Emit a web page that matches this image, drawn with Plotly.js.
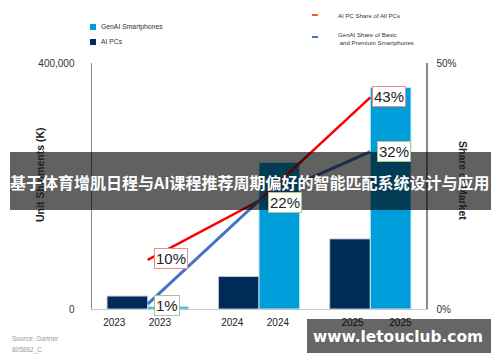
<!DOCTYPE html>
<html>
<head>
<meta charset="utf-8">
<script src="https://cdn.plot.ly/plotly-3.0.1.min.js"></script>
<style>html,body{margin:0;padding:0;background:#fff}#chart{width:500px;height:362px}</style>
</head>
<body>
<div id="chart"></div>
<script>
// ---- data ----
const years = ['2023', '2024', '2025'];
const aiPcs = [21000, 53000, 114000];          // Unit shipments (K)
const genaiPhones = [3500, 238000, 360000];    // Unit shipments (K)
const aiPcShare = [10, 22, 43];                // % share of all PCs
const genaiShare = [1, 22, 32];                // % share of basic & premium smartphones
const tickLabels = ['2023', '2023', '2024', '2024', '2025', '2025'];
const tickPos = [-0.30, 0.11, 0.76, 1.17, 1.84, 2.27];
const redLabelIdx = [0, 2];
const blueLabelIdx = [0, 1, 2];

const xi = years.map((_, i) => i);
const FONT = 'Liberation Sans, Arial, sans-serif';

const traces = [
  {type: 'bar', x: xi, y: aiPcs, name: 'AI PCs', marker: {color: '#002a57', line: {color: '#c8ccd4', width: 1}}, hoverinfo: 'skip'},
  {type: 'bar', x: xi, y: genaiPhones, name: 'GenAI Smartphones', marker: {color: '#009ddb', line: {color: '#bfe6f5', width: 1}}, hoverinfo: 'skip'},
  {type: 'scatter', mode: 'lines', x: xi, y: aiPcShare, yaxis: 'y2', line: {color: '#ff0000', width: 2.5}, hoverinfo: 'skip'},
  {type: 'scatter', mode: 'lines', x: xi, y: genaiShare, yaxis: 'y2', line: {color: '#4472c4', width: 3}, hoverinfo: 'skip'}
];

// pixel helpers for paper coordinates (plot area 92..426 x, 63..309 y)
const L = 92, R = 426, T = 63, B = 309;
const px = x => (x - L) / (R - L);
const py = y => (B - y) / (B - T);

const redShift = [6, 0, 2];
const blueShift = [6, 9, 7];
const blueYShift = [-1, -2, 0];
const annotations = [];
redLabelIdx.forEach(i => annotations.push({
  x: i, y: aiPcShare[i], xref: 'x', yref: 'y2', text: aiPcShare[i] + '%', showarrow: false,
  xanchor: 'left', yanchor: 'middle', xshift: redShift[i], yshift: 1,
  font: {family: FONT, size: 15, color: '#222'}, bgcolor: '#fff', bordercolor: '#f08a8a', borderwidth: 1, borderpad: 1
}));
blueLabelIdx.forEach(i => annotations.push({
  x: i, y: genaiShare[i], xref: 'x', yref: 'y2', text: genaiShare[i] + '%', showarrow: false,
  xanchor: 'left', yanchor: 'middle', xshift: blueShift[i], yshift: blueYShift[i],
  font: {family: FONT, size: 15, color: '#222'}, bgcolor: '#fff', bordercolor: '#a8c890', borderwidth: 1, borderpad: 1
}));

// legend texts
const legFontL = {family: FONT, size: 6.8, color: '#333'};
const legFontR = {family: FONT, size: 6.1, color: '#333'};
annotations.push(
  {xref: 'paper', yref: 'paper', x: px(99), y: py(27), text: 'GenAI Smartphones', showarrow: false, xanchor: 'left', yanchor: 'middle', font: legFontL},
  {xref: 'paper', yref: 'paper', x: px(99), y: py(42), text: 'AI PCs', showarrow: false, xanchor: 'left', yanchor: 'middle', font: legFontL},
  {xref: 'paper', yref: 'paper', x: px(336), y: py(15), text: 'AI PC Share of All PCs', showarrow: false, xanchor: 'left', yanchor: 'middle', font: legFontR},
  {xref: 'paper', yref: 'paper', x: px(336), y: py(39), text: 'GenAI Share of Basic<br> and Premium Smartphones', showarrow: false, xanchor: 'left', yanchor: 'middle', align: 'left', font: legFontR}
);
// axis titles
annotations.push(
  {xref: 'paper', yref: 'paper', x: px(32), y: py(175), text: '<b>Unit Shipments (K)</b>', textangle: -90, showarrow: false, font: {family: FONT, size: 10.5, color: '#222'}},
  {xref: 'paper', yref: 'paper', x: px(471), y: py(181), text: '<b>Share of Market</b>', textangle: 90, showarrow: false, font: {family: FONT, size: 10.5, color: '#222'}}
);
// source
annotations.push(
  {xref: 'paper', yref: 'paper', x: px(10), y: py(338), text: 'Source: Gartner', showarrow: false, xanchor: 'left', yanchor: 'middle', font: {family: FONT, size: 6.5, color: '#999'}},
  {xref: 'paper', yref: 'paper', x: px(10), y: py(350), text: '805862_C', showarrow: false, xanchor: 'left', yanchor: 'middle', font: {family: FONT, size: 6.5, color: '#999'}}
);
// overlay texts
annotations.push(
  {xref: 'paper', yref: 'paper', x: px(250), y: py(182), text: '<b>基于体育增肌日程与AI课程推荐周期偏好的智能匹配系统设计与应用</b>', showarrow: false, xanchor: 'center', yanchor: 'middle', font: {family: 'Noto Sans CJK SC, sans-serif', size: 16, color: '#fff'}},
  {xref: 'paper', yref: 'paper', x: px(398), y: py(337), text: '<b>www.letouclub.com</b>', showarrow: false, xanchor: 'center', yanchor: 'middle', font: {family: 'DejaVu Sans, sans-serif', size: 15.4, color: '#fff'}}
);

const shapes = [
  // legend glyphs
  {type: 'rect', xref: 'paper', yref: 'paper', x0: px(90), x1: px(96), y0: py(30), y1: py(24), fillcolor: '#009ddb', line: {width: 0}},
  {type: 'rect', xref: 'paper', yref: 'paper', x0: px(90), x1: px(96), y0: py(45), y1: py(39), fillcolor: '#002a57', line: {width: 0}},
  {type: 'line', xref: 'paper', yref: 'paper', x0: px(312), x1: px(318), y0: py(15), y1: py(15), line: {color: '#ff5a1f', width: 2}},
  {type: 'line', xref: 'paper', yref: 'paper', x0: px(312), x1: px(318), y0: py(37), y1: py(37), line: {color: '#4472c4', width: 2}},
  // overlay band
  {type: 'rect', xref: 'paper', yref: 'paper', layer: 'above', x0: px(10), x1: px(491), y0: py(210), y1: py(152), fillcolor: 'rgba(0,0,0,0.62)', line: {width: 0}},
  // watermark box
  {type: 'rect', xref: 'paper', yref: 'paper', layer: 'above', x0: px(307), x1: px(491), y0: py(353), y1: py(319), fillcolor: 'rgba(0,0,0,0.6)', line: {width: 0}}
];

const layout = {
  width: 500, height: 362,
  margin: {l: L, r: 500 - R, t: T, b: 362 - B},
  paper_bgcolor: '#fff', plot_bgcolor: '#fff',
  showlegend: false,
  barmode: 'group', bargap: 0.27, bargroupgap: 0,
  font: {family: FONT, size: 10, color: '#333'},
  xaxis: {
    type: 'linear', range: [-0.5, 2.5], tickmode: 'array', tickvals: tickPos, ticktext: tickLabels,
    showgrid: false, zeroline: false, showline: true, linecolor: '#c8c8c8', linewidth: 1,
    ticks: '', ticklabelstandoff: 4, tickfont: {family: FONT, size: 10, color: '#222'}
  },
  yaxis: {
    range: [0, 400000], tickmode: 'array', tickvals: [0, 400000], ticktext: ['0', '400,000'],
    showgrid: false, zeroline: false, showline: true, linecolor: '#8a8a8a', linewidth: 1.5,
    ticks: '', ticklabelstandoff: 14, tickfont: {family: FONT, size: 10, color: '#333'}
  },
  yaxis2: {
    overlaying: 'y', side: 'right', range: [0, 50], tickmode: 'array', tickvals: [0, 50], ticktext: ['0%', '50%'],
    showgrid: false, zeroline: false, showline: true, linecolor: '#8a8a8a', linewidth: 1.5,
    ticks: '', ticklabelstandoff: 7, tickfont: {family: FONT, size: 10, color: '#333'}
  },
  annotations: annotations,
  shapes: shapes
};

Plotly.newPlot('chart', traces, layout, {staticPlot: true, displayModeBar: false});
</script>
</body>
</html>
